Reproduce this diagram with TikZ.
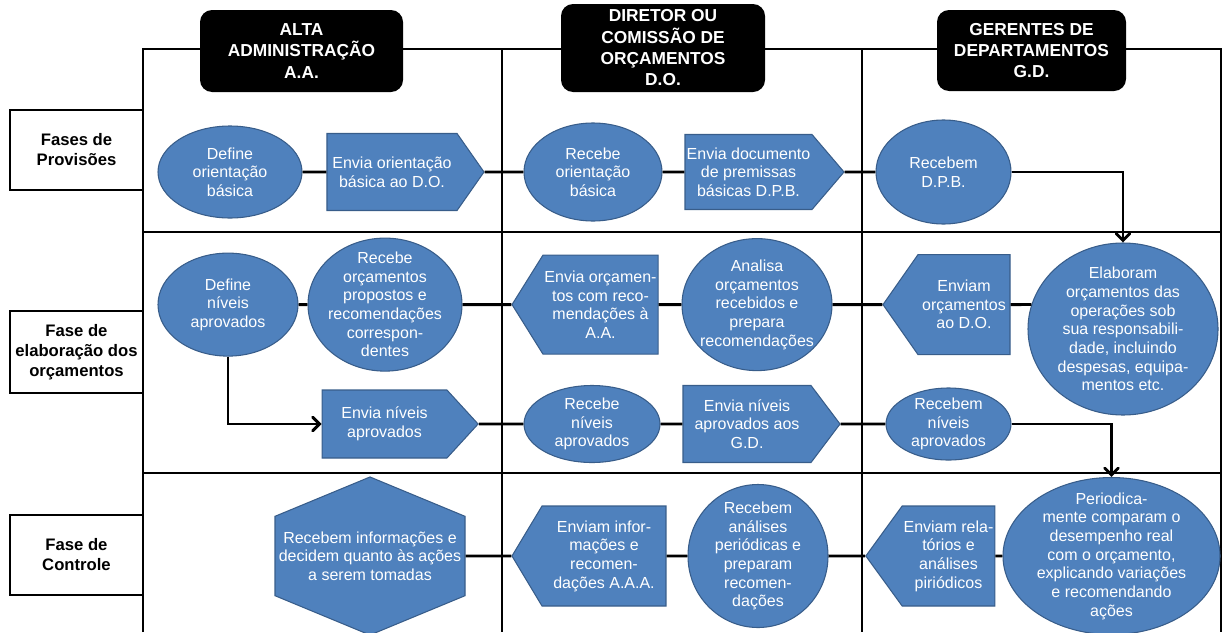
\documentclass[tikz,border=0pt]{standalone}
\usepackage{fontspec}
\setmainfont{Liberation Sans}
\usetikzlibrary{shapes,arrows}

\definecolor{azul}{HTML}{4F81BD}
\definecolor{azulborda}{HTML}{385D8A}

\begin{document}
\begin{tikzpicture}[
      x=0.75pt,
      y=-0.75pt
    ]

    \tikzstyle{circulo} = [
        ellipse,
        draw=azulborda,
        line width=0.8pt,
        fill=azul,
        text=white,
        align=center,
        inner sep=-40pt,
        font=\fontsize{12}{14}\selectfont
    ]

    \tikzstyle{envio} = [
        signal,
        signal to=east,
        draw=azulborda,
        line width=0.8pt,
        fill=azul,
        text=white,
        align=center,
        inner xsep=0.5pt,
        font=\fontsize{12}{14}\selectfont
    ]

    \tikzstyle{retorno} = [
        envio,
        signal to=west
    ]

    \tikzstyle{cabecalho} = [
        rectangle,
        rounded corners=9pt,
        fill=black,
        text=white,
        align=center,
        font=\fontsize{13}{16}\selectfont\bfseries
    ]

    \tikzstyle{fase} = [
        rectangle,
        draw,
        line width=1.3pt,
        fill=white,
        align=center,
        minimum width=99.75pt,
        minimum height=60pt,
        font=\fontsize{12.5}{15}\selectfont\bfseries
    ]

    \tikzstyle{linha} = [
        draw,
        line width=2.2pt
    ]

    \tikzstyle{seta} = [
        draw,
        line width=2.2pt,
        -angle 90
    ]

    \useasboundingbox (0,0) rectangle (1223,632);

    % raias
    \draw[line width=1.2pt] (143,632) -- (143,49) -- (1221,49) -- (1221,632);
    \draw[line width=1.2pt] (502,49) -- (502,632);
    \draw[line width=1.2pt] (862,49) -- (862,632);
    \draw[line width=1.2pt] (143,232) -- (1221,232);
    \draw[line width=1.2pt] (143,473) -- (1221,473);

    \node [cabecalho, minimum width=152.25pt, minimum height=61.5pt] (aa) at (301.5,51)
        {ALTA\\ADMINISTRAÇÃO\\A.A.};
    \node [cabecalho, minimum width=153pt, minimum height=66pt]      (do) at (663,48)
        {DIRETOR OU\\COMISSÃO DE\\ORÇAMENTOS\\D.O.};
    \node [cabecalho, minimum width=141.75pt, minimum height=60.75pt] (gd) at (1031.5,50.5)
        {GERENTES DE\\DEPARTAMENTOS\\G.D.};

    \node [fase] (provisoes) at (76.5,150) {Fases de\\Provisões};
    \node [fase, minimum height=61.5pt] (elaboracao) at (76.5,352) {Fase de\\elaboração dos\\orçamentos};
    \node [fase] (controle) at (76.5,555) {Fase de\\Controle};

    % fases de provisoes
    \node [circulo, minimum width=108pt, minimum height=69pt]       (defOri) at (230,172)
        {Define\\orientação\\básica};
    \node [envio, minimum width=117.75pt, minimum height=57.75pt, signal pointer angle=110] (envOri) at (392,172)
        {Envia orientação\\básica ao D.O.};
    \node [circulo, minimum width=103.5pt, minimum height=73.5pt]    (recOri) at (593,172)
        {Recebe\\orientação\\básica};
    \node [envio, minimum width=119.25pt, minimum height=56.25pt, signal pointer angle=99] (envDoc) at (748.5,172)
        {Envia documento\\de premissas\\básicas D.P.B.};
    \node [circulo, minimum width=101.25pt, minimum height=78pt]     (recDPB) at (943.5,172)
        {Recebem\\D.P.B.};

    % fase de elaboracao
    \node [circulo, minimum width=142.5pt, minimum height=129pt]     (elab) at (1123,329)
        {Elaboram\\orçamentos das\\operações sob\\sua responsabili-\\dade, incluindo\\despesas, equipa-\\mentos etc.};
    \node [retorno, minimum width=95.25pt, minimum height=75pt, signal pointer angle=110] (envDO) at (964,304.6)
        {Enviam\\orçamentos\\ao D.O.};
    \node [circulo, minimum width=112.5pt, minimum height=99pt]      (anaOrc) at (757,304.6)
        {Analisa\\orçamentos\\recebidos e\\prepara\\recomendações};
    \node [retorno, minimum width=109.5pt, minimum height=74.25pt, signal pointer angle=116] (envOrc) at (600.5,304.6)
        {Envia orçamen-\\tos com reco-\\mendações à\\A.A.};
    \node [circulo, minimum width=115.5pt, minimum height=99.75pt]   (recOrc) at (385,304.6)
        {Recebe\\orçamentos\\propostos e\\recomendações\\correspon-\\dentes};
    \node [circulo, minimum width=105pt, minimum height=77.25pt]     (defNiv) at (228,304.6)
        {Define\\níveis\\aprovados};

    \node [envio, minimum width=117pt, minimum height=51pt, signal pointer angle=95] (envNiv) at (384.5,424)
        {Envia níveis\\aprovados};
    \node [circulo, minimum width=102pt, minimum height=57.75pt]     (recNiv) at (592,424)
        {Recebe\\níveis\\aprovados};
    \node [envio, minimum width=117.75pt, minimum height=57.75pt, signal pointer angle=106] (envNivGD) at (747,424)
        {Envia níveis\\aprovados aos\\G.D.};
    \node [circulo, minimum width=93.75pt, minimum height=54pt]      (recNivGD) at (948.5,424)
        {Recebem\\níveis\\aprovados};

    % fase de controle
    \node [envio, signal to=north and south, inner xsep=1pt, minimum width=142.5pt, minimum height=117pt, signal pointer angle=135] (decide) at (370,556)
        {Recebem informações e\\decidem quanto às ações\\a serem tomadas};
    \node [retorno, minimum width=115.5pt, minimum height=75pt, signal pointer angle=118] (envInf) at (604,556)
        {Enviam infor-\\mações e\\recomen-\\dações A.A.A.};
    \node [circulo, minimum width=105pt, minimum height=107.25pt]    (recAna) at (758,556)
        {Recebem\\análises\\periódicas e\\preparam\\recomen-\\dações};
    \node [retorno, minimum width=96.75pt, minimum height=75pt, signal pointer angle=108] (envRel) at (948.5,556)
        {Enviam rela-\\tórios e\\análises\\piriódicos};
    \node [circulo, minimum width=162.75pt, minimum height=117.75pt] (period) at (1111.5,556)
        {Periodica-\\mente comparam o\\desempenho real\\com o orçamento,\\explicando variações\\e recomendando\\ações};

    \path [linha] (defOri) -- (envOri) -- (recOri) -- (envDoc) -- (recDPB);
    \path [linha] (defNiv) -- (recOrc) -- (envOrc) -- (anaOrc) -- (envDO);
    \path [linha] (envDO.east) -- (elab.165);
    \path [linha] (envNiv) -- (recNiv) -- (envNivGD) -- (recNivGD);
    \path [linha] (decide) -- (envInf) -- (recAna) -- (envRel) -- (period);

    \path [seta] (recDPB.east) -| (elab.north);
    \path [seta] (defNiv.south) |- (envNiv.west);
    \path [seta] (recNivGD.east) -| (period.north);

\end{tikzpicture}
\end{document}
